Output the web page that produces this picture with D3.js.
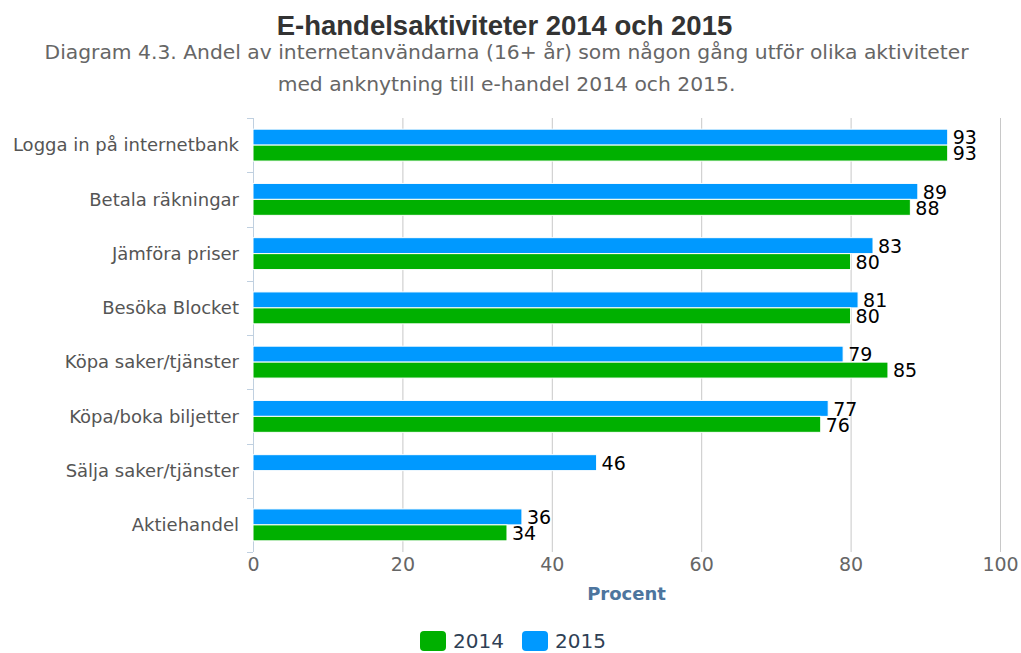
<!DOCTYPE html>
<html>
<head>
<meta charset="utf-8">
<script src="https://cdn.jsdelivr.net/npm/d3@7"></script>
<style>
    body { margin: 0; background: #fff; }
    svg { display: block; }
</style>
</head>
<body>
<svg></svg>
<script>
const categories = [
    'Logga in på internetbank',
    'Betala räkningar',
    'Jämföra priser',
    'Besöka Blocket',
    'Köpa saker/tjänster',
    'Köpa/boka biljetter',
    'Sälja saker/tjänster',
    'Aktiehandel'
];
const values2014 = [93, 88, 80, 80, 85, 76, null, 34];
const values2015 = [93, 89, 83, 81, 79, 77, 46, 36];
const xTicks = [0, 20, 40, 60, 80, 100];
const seriesNames = ['2015', '2014'];
const legendNames = ['2014', '2015'];

const width = 1021;
const height = 653;
const plotLeft = 253;
const plotRight = 1000;
const plotTop = 118;
const plotBottom = 552;

const colors = { '2014': '#00b000', '2015': '#0099ff' };
const font = '"DejaVu Sans", sans-serif';

let svg = d3.select('svg')
    .attr('width', width)
    .attr('height', height)
    .style('font-family', font)

let xScale = d3.scaleLinear()
    .domain([0, 100])
    .range([plotLeft, plotRight])

let yScale = d3.scaleBand()
    .domain(categories)
    .range([plotTop, plotBottom])

let innerScale = d3.scaleBand()
    .domain(seriesNames)
    .range([0, yScale.bandwidth()])
    .paddingOuter(0.7)

// grid lines
svg.append('g')
    .selectAll('line')
    .data(xTicks)
    .enter()
    .append('line')
    .attr('x1', d => xScale(d) + 0.5)
    .attr('x2', d => xScale(d) + 0.5)
    .attr('y1', plotTop)
    .attr('y2', plotBottom)
    .attr('stroke', '#c8c8c8')
    .attr('stroke-width', 1)

// category axis with ticks between categories
let yAxisG = svg.append('g')
yAxisG.append('line')
    .attr('x1', plotLeft + 0.5)
    .attr('x2', plotLeft + 0.5)
    .attr('y1', plotTop)
    .attr('y2', plotBottom)
    .attr('stroke', '#c0d0e0')

let boundaries = categories.map(c => yScale(c)).concat([plotBottom])
yAxisG.selectAll('.tick-mark')
    .data(boundaries)
    .enter()
    .append('line')
    .attr('class', 'tick-mark')
    .attr('x1', plotLeft - 6)
    .attr('x2', plotLeft)
    .attr('y1', d => Math.round(d) + 0.5)
    .attr('y2', d => Math.round(d) + 0.5)
    .attr('stroke', '#c0d0e0')

yAxisG.selectAll('.cat-label')
    .data(categories)
    .enter()
    .append('text')
    .attr('class', 'cat-label')
    .attr('x', plotLeft - 14)
    .attr('y', d => yScale(d) + yScale.bandwidth() / 2)
    .attr('dy', '0.35em')
    .attr('text-anchor', 'end')
    .attr('fill', '#555')
    .style('font-size', '18px')
    .text(d => d)

// x axis labels
let xAxis = d3.axisBottom(xScale)
    .tickValues(xTicks)
    .tickSize(0)
    .tickPadding(6)

let xAxisG = svg.append('g')
    .attr('transform', 'translate(0,' + plotBottom + ')')
    .call(xAxis)
xAxisG.select('.domain').remove()
xAxisG.selectAll('text')
    .attr('fill', '#666')
    .style('font-size', '19px')
    .style('font-family', font)

svg.append('text')
    .attr('x', (plotLeft + plotRight) / 2)
    .attr('y', 600)
    .attr('text-anchor', 'middle')
    .attr('fill', '#4d759e')
    .style('font-size', '18px')
    .style('font-weight', 'bold')
    .text('Procent')

// bars
let rows = categories.map((c, i) => ({
    category: c,
    points: [
        { series: '2015', value: values2015[i] },
        { series: '2014', value: values2014[i] }
    ].filter(p => p.value !== null)
}))

let groups = svg.selectAll('.group')
    .data(rows)
    .enter()
    .append('g')
    .attr('class', 'group')
    .attr('transform', d => 'translate(0,' + yScale(d.category) + ')')

groups.selectAll('rect')
    .data(d => d.points)
    .enter()
    .append('rect')
    .attr('x', xScale(0))
    .attr('y', d => innerScale(d.series))
    .attr('width', d => xScale(d.value) - xScale(0))
    .attr('height', innerScale.bandwidth())
    .attr('fill', d => colors[d.series])
    .attr('stroke', '#fff')
    .attr('stroke-width', 1)

groups.selectAll('.value-label')
    .data(d => d.points)
    .enter()
    .append('text')
    .attr('class', 'value-label')
    .attr('x', d => xScale(d.value) + 5)
    .attr('y', d => innerScale(d.series) + innerScale.bandwidth() / 2)
    .attr('dy', '0.38em')
    .attr('fill', '#000')
    .style('font-size', '19px')
    .text(d => d.value)

// titles
svg.append('text')
    .attr('x', width / 2 - 6)
    .attr('y', 35)
    .attr('text-anchor', 'middle')
    .attr('fill', '#333')
    .style('font-family', '"Liberation Sans", Arial, sans-serif')
    .style('font-size', '27.5px')
    .style('font-weight', 'bold')
    .text('E-handelsaktiviteter 2014 och 2015')

let subtitleLines = [
    'Diagram 4.3. Andel av internetanvändarna (16+ år) som någon gång utför olika aktiviteter',
    'med anknytning till e-handel 2014 och 2015.'
]
svg.selectAll('.subtitle')
    .data(subtitleLines)
    .enter()
    .append('text')
    .attr('class', 'subtitle')
    .attr('x', width / 2 - 4)
    .attr('y', (d, i) => 59 + i * 32)
    .attr('text-anchor', 'middle')
    .attr('fill', '#666')
    .style('font-size', '20.3px')
    .text(d => d)

// legend
let legend = svg.append('g')
    .attr('transform', 'translate(420,631)')

let legendItems = legend.selectAll('g')
    .data(legendNames)
    .enter()
    .append('g')
    .attr('transform', (d, i) => 'translate(' + (i * 102) + ',0)')

legendItems.append('rect')
    .attr('width', 26)
    .attr('height', 20)
    .attr('rx', 4)
    .attr('fill', d => colors[d])

legendItems.append('text')
    .attr('x', 33)
    .attr('y', 10)
    .attr('dy', '0.36em')
    .attr('fill', '#2f3f55')
    .style('font-size', '20px')
    .text(d => d)
</script>
</body>
</html>
